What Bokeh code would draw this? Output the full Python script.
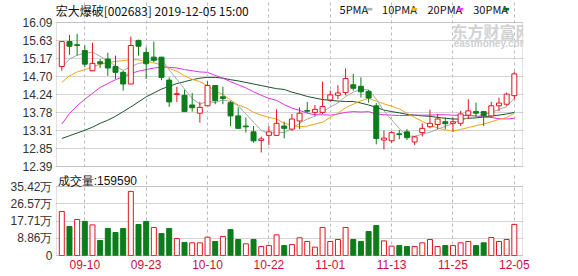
from bokeh.plotting import figure
from bokeh.layouts import column
from bokeh.models import (Range1d, FixedTicker, Label, PrintfTickFormatter,
                          CustomJSTickFormatter, BoxAnnotation)
from bokeh.embed import file_html
from bokeh.resources import INLINE

# ---- daily K-line data (price in CNY, volume in 万手) ----
dates = ["09-05", "09-06", "09-09", "09-10", "09-11", "09-12", "09-16", "09-17", "09-18", "09-19",
         "09-20", "09-23", "09-24", "09-25", "09-26", "09-27", "09-30", "10-08", "10-09", "10-10",
         "10-11", "10-14", "10-15", "10-16", "10-17", "10-18", "10-21", "10-22", "10-23", "10-24",
         "10-25", "10-28", "10-29", "10-30", "10-31", "11-01", "11-04", "11-05", "11-06", "11-07",
         "11-08", "11-11", "11-12", "11-13", "11-14", "11-15", "11-18", "11-19", "11-20", "11-21",
         "11-22", "11-25", "11-26", "11-27", "11-28", "11-29", "12-02", "12-03", "12-04", "12-05"]

opens = [14.96, 15.60, 15.52, 15.37, 14.85, 15.08, 15.15, 14.96, 14.81, 14.51,
         15.63, 15.32, 15.20, 15.20, 14.61, 14.24, 14.22, 13.97, 13.76, 13.95,
         14.47, 14.18, 14.03, 13.69, 13.43, 13.28, 13.06, 13.19, 13.19, 13.43,
         13.35, 13.56, 13.83, 13.78, 13.78, 14.10, 14.22, 14.29, 14.49, 14.45,
         14.32, 13.95, 13.07, 13.05, 13.23, 13.28, 13.02, 13.26, 13.41, 13.47,
         13.54, 13.50, 13.50, 13.71, 13.80, 13.80, 13.69, 13.95, 13.99, 14.21]
highs = [15.60, 15.77, 15.80, 15.50, 15.57, 15.15, 15.31, 15.24, 14.85, 15.73,
         15.65, 15.45, 15.60, 15.20, 14.68, 14.44, 14.36, 14.28, 14.05, 14.58,
         14.48, 14.44, 14.08, 13.91, 13.65, 13.43, 13.16, 13.43, 13.86, 13.54,
         13.74, 13.91, 14.05, 13.97, 14.57, 14.34, 14.48, 14.91, 14.77, 14.68,
         14.36, 14.02, 13.31, 13.30, 13.33, 13.35, 13.17, 13.50, 13.85, 13.74,
         13.65, 13.65, 13.82, 14.12, 14.03, 13.82, 14.05, 14.16, 14.29, 14.83]
lows = [14.85, 15.26, 15.24, 14.94, 14.85, 14.92, 14.72, 14.64, 14.34, 14.50,
        15.24, 14.64, 15.07, 14.61, 13.92, 14.05, 13.80, 13.80, 13.52, 13.95,
        13.99, 13.99, 13.43, 13.36, 13.26, 13.00, 12.75, 12.94, 13.18, 13.11,
        13.30, 13.35, 13.76, 13.69, 13.74, 14.05, 14.12, 14.22, 14.34, 14.16,
        14.03, 12.96, 12.83, 13.00, 13.09, 13.07, 12.94, 13.16, 13.37, 13.35,
        13.35, 13.28, 13.43, 13.61, 13.67, 13.43, 13.65, 13.82, 13.95, 14.12]
closes = [15.60, 15.48, 15.50, 15.02, 15.04, 15.03, 14.92, 14.81, 14.51, 15.50,
          15.48, 15.03, 15.12, 14.68, 14.05, 14.26, 13.80, 13.90, 13.91, 14.47,
          14.08, 14.14, 13.69, 13.37, 13.41, 13.05, 13.10, 13.28, 13.50, 13.37,
          13.61, 13.76, 13.81, 13.86, 13.93, 14.23, 14.28, 14.65, 14.40, 14.31,
          14.15, 13.11, 13.12, 13.26, 13.21, 13.13, 13.15, 13.37, 13.50, 13.61,
          13.49, 13.54, 13.74, 13.82, 13.76, 13.69, 13.95, 14.02, 14.25, 14.77]
volumes = [22.6, 14.9, 18.5, 17.5, 15.7, 7.7, 13.9, 11.8, 13.9, 32.9,
           15.9, 17.5, 14.4, 11.3, 13.9, 8.7, 6.7, 6.5, 6.5, 9.4,
           7.2, 9.8, 13.3, 8.2, 6.0, 8.2, 4.6, 5.1, 10.6, 5.1,
           5.6, 9.1, 7.2, 4.3, 14.4, 7.2, 8.2, 14.4, 8.2, 7.2,
           12.3, 15.4, 7.5, 4.8, 5.1, 4.6, 4.6, 6.5, 8.2, 4.6,
           5.1, 5.1, 6.5, 7.2, 5.1, 6.5, 9.2, 7.2, 8.2, 15.959]

ma5 = [14.94, 15.15, 15.25, 15.30, 15.33, 15.22, 15.11, 14.97, 14.86, 14.95,
       15.04, 15.07, 15.13, 15.16, 14.87, 14.63, 14.38, 14.14, 13.99, 14.07,
       14.03, 14.10, 14.06, 13.95, 13.74, 13.53, 13.32, 13.24, 13.27, 13.26,
       13.37, 13.50, 13.61, 13.68, 13.79, 13.92, 14.02, 14.19, 14.30, 14.37,
       14.36, 14.12, 13.82, 13.59, 13.37, 13.17, 13.17, 13.22, 13.27, 13.35,
       13.42, 13.50, 13.58, 13.64, 13.67, 13.71, 13.79, 13.85, 13.93, 14.14]
ma10 = [14.55, 14.72, 14.82, 14.88, 14.95, 15.02, 15.06, 15.09, 15.11, 15.14,
        15.13, 15.09, 15.05, 15.01, 14.91, 14.84, 14.72, 14.63, 14.57, 14.47,
        14.33, 14.24, 14.10, 13.97, 13.90, 13.78, 13.71, 13.65, 13.61, 13.50,
        13.45, 13.41, 13.43, 13.48, 13.53, 13.65, 13.76, 13.90, 13.99, 14.08,
        14.14, 14.07, 14.00, 13.94, 13.87, 13.76, 13.65, 13.55, 13.45, 13.38,
        13.33, 13.30, 13.34, 13.39, 13.44, 13.48, 13.54, 13.60, 13.65, 13.76]
ma20 = [13.48, 13.75, 13.95, 14.12, 14.27, 14.42, 14.52, 14.62, 14.70, 14.78,
        14.84, 14.88, 14.92, 14.94, 14.94, 14.92, 14.88, 14.85, 14.82, 14.81,
        14.73, 14.66, 14.57, 14.49, 14.41, 14.31, 14.22, 14.14, 14.09, 13.98,
        13.89, 13.83, 13.76, 13.72, 13.72, 13.71, 13.74, 13.78, 13.80, 13.79,
        13.80, 13.74, 13.72, 13.71, 13.70, 13.70, 13.71, 13.71, 13.71, 13.72,
        13.72, 13.71, 13.70, 13.70, 13.69, 13.66, 13.65, 13.62, 13.61, 13.63]
ma30 = [13.11, 13.18, 13.25, 13.32, 13.40, 13.50, 13.58, 13.68, 13.80, 13.92,
        14.05, 14.18, 14.28, 14.38, 14.45, 14.52, 14.57, 14.62, 14.66, 14.68,
        14.68, 14.66, 14.62, 14.59, 14.55, 14.51, 14.47, 14.43, 14.39, 14.37,
        14.30, 14.25, 14.19, 14.15, 14.11, 14.09, 14.07, 14.06, 14.06, 14.02,
        13.97, 13.91, 13.84, 13.80, 13.77, 13.73, 13.71, 13.69, 13.68, 13.65,
        13.63, 13.61, 13.61, 13.63, 13.64, 13.66, 13.69, 13.71, 13.74, 13.78]

price_ticks = [12.39, 12.85, 13.31, 13.78, 14.24, 14.70, 15.17, 15.63, 16.09]
vol_ticks = [0, 8.86, 17.71, 26.57, 35.42]
date_ticks = ["09-10", "09-23", "10-10", "10-22", "11-01", "11-13", "11-25", "12-05"]
ma_names = ["5PMA", "10PMA", "20PMA", "30PMA"]

# ---- styling ----
RED = "#e2141e"
GREEN = "#0b7d1a"
MA_COLORS = ["#a6a6a6", "#eea51c", "#e22fe2", "#17552b"]
KEY_COLORS = ["#b4b4b4", "#f3b41e", "#f040f0", "#0a6b2a"]
FRAME = "#a0a0a0"
HGRID = "#d4d4d4"
VGRID = "#b8b8b8"
AXIS_TXT = "#333333"
DATE_TXT = "#cc1133"
LATIN = "Liberation Sans"
CJK = "Noto Sans CJK SC"
BAR_W = 0.65

# horizontal layout: one candle slot = 7.67 px, first candle 5.3 px right of the plot box
SLOT = 7.67
X0 = -5.3 / SLOT                      # left edge of the plot box
X1 = X0 + 466 / SLOT                  # right edge of the plot box
PAD = 1 / SLOT                        # 1 px margin so the box lines are not clipped
# vertical layout (px per unit) of both panels
PRICE_PX = 144 / (price_ticks[-1] - price_ticks[0])
VOL_PX = 69 / vol_ticks[-1]

n = len(dates)
idx = list(range(n))
tick_idx = [dates.index(d) for d in date_ticks]
candle_up = [c > o for o, c in zip(opens, closes)]
vol_up = [closes[0] > opens[0]] + [closes[i] > closes[i - 1] for i in range(1, n)]
candle_color = [RED if u else GREEN for u in candle_up]
candle_fill = ["white" if u else GREEN for u in candle_up]
vol_color = [RED if u else GREEN for u in vol_up]
vol_fill = ["white" if u else GREEN for u in vol_up]
body_top = [max(o, c) for o, c in zip(opens, closes)]
body_bot = [min(o, c) for o, c in zip(opens, closes)]

x_range = Range1d(X0 - PAD, X1 + PAD)


def style_panel(p, lo, hi):
    p.outline_line_color = None
    p.background_fill_color = "white"
    p.border_fill_color = "white"
    p.xgrid.ticker = FixedTicker(ticks=tick_idx)
    p.xgrid.bounds = (lo, hi)
    p.xgrid.grid_line_color = VGRID
    p.xgrid.grid_line_dash = "3 3"
    p.ygrid.grid_line_color = HGRID
    p.add_layout(BoxAnnotation(left=X0, right=X1, bottom=lo, top=hi,
                               fill_alpha=0, line_color=FRAME, line_width=1))
    for ax in p.yaxis:
        ax.axis_line_color = None
        ax.major_tick_line_color = None
        ax.minor_tick_line_color = None
        ax.major_tick_out = 0
        ax.major_tick_in = 0
        ax.major_label_standoff = 3
        ax.major_label_text_font = LATIN
        ax.major_label_text_font_size = "12px"
        ax.major_label_text_color = AXIS_TXT


# ---- price panel (header row sits inside the top of this panel) ----
p_lo = price_ticks[0] - 1 / PRICE_PX
p_hi = price_ticks[-1] + 22 / PRICE_PX
p1 = figure(width=578, height=173, x_range=x_range, y_range=Range1d(p_lo, p_hi),
            output_backend="svg", toolbar_location=None, x_axis_location=None,
            title_location=None,
            min_border_left=55, min_border_right=55, min_border_top=0, min_border_bottom=6)
style_panel(p1, price_ticks[0], price_ticks[-1])
p1.yaxis.ticker = FixedTicker(ticks=price_ticks)
p1.yaxis.formatter = PrintfTickFormatter(format="%.2f")

for vals, col in zip([ma30, ma20, ma10, ma5], MA_COLORS[::-1]):
    p1.line(idx, vals, line_color=col, line_width=1)

p1.segment(x0=idx, y0=lows, x1=idx, y1=highs, line_color=candle_color, line_width=1)
p1.vbar(x=idx, width=BAR_W, top=body_top, bottom=body_bot,
        fill_color=candle_fill, line_color=candle_color, line_width=1)


def head_y(px_above):
    return price_ticks[-1] + px_above / PRICE_PX


p1.add_layout(Label(x=X0 - 0.1, y=head_y(12.5), text="宏大爆破[002683] 2019-12-05 15:00",
                    text_font=CJK, text_font_size="12px", text_color="#111111",
                    text_align="left", text_baseline="middle"))
key_text_x = [36.21, 41.75, 47.68, 53.64]
key_mark_x = [40.12, 46.0, 51.98, 57.96]
for name, col, tx, mx in zip(ma_names, KEY_COLORS, key_text_x, key_mark_x):
    p1.add_layout(Label(x=tx, y=head_y(13.5), text=name, text_font=CJK, text_font_size="11px",
                        text_color="#111111", text_align="left", text_baseline="middle"))
    p1.add_layout(Label(x=mx, y=head_y(13.5), text="\u25ac", text_font="DejaVu Sans",
                        text_font_size="7px", text_color=col,
                        text_align="center", text_baseline="middle"))

# site watermark
p1.add_layout(Label(x=50.8, y=15.86, text="东方财富网", text_font=CJK,
                    text_font_size="16px", text_font_style="bold", text_color="#d2d2d2",
                    text_align="left", text_baseline="middle"))
p1.add_layout(Label(x=51.1, y=15.56, text="eastmoney.com", text_font=LATIN,
                    text_font_size="10px", text_font_style="bold", text_color="#cfcfcf",
                    text_align="left", text_baseline="middle"))

# ---- volume panel (its caption sits inside the top of this panel) ----
v_lo = vol_ticks[0] - 1 / VOL_PX
v_hi = vol_ticks[-1] + 13 / VOL_PX
p2 = figure(width=578, height=103, x_range=x_range, y_range=Range1d(v_lo, v_hi),
            output_backend="svg", toolbar_location=None, title_location=None,
            min_border_left=55, min_border_right=55, min_border_top=0, min_border_bottom=20)
style_panel(p2, vol_ticks[0], vol_ticks[-1])
p2.yaxis.ticker = FixedTicker(ticks=vol_ticks)
p2.yaxis.formatter = CustomJSTickFormatter(
    code="return tick == 0 ? '0' : tick.toFixed(2) + '万';")
p2.xaxis.ticker = FixedTicker(ticks=tick_idx)
p2.xaxis.formatter = CustomJSTickFormatter(args=dict(labels=dates),
                                           code="return labels[Math.round(tick)] || '';")
ax = p2.xaxis[0]
ax.axis_line_color = None
ax.major_tick_line_color = None
ax.minor_tick_line_color = None
ax.major_tick_out = 0
ax.major_tick_in = 0
ax.major_label_standoff = 3
ax.major_label_text_font = LATIN
ax.major_label_text_font_size = "12px"
ax.major_label_text_color = DATE_TXT

p2.vbar(x=idx, width=BAR_W, top=volumes, bottom=0,
        fill_color=vol_fill, line_color=vol_color, line_width=1)

# caption with the latest volume, hung from the top edge of the panel
p2.add_layout(Label(x=X0 + 0.15, y=vol_ticks[-1] + 12.7 / VOL_PX,
                    text=f"成交量:{round(volumes[-1] * 10000)}",
                    text_font=LATIN, text_font_size="12px", text_color="#111111",
                    text_align="left", text_baseline="top"))

layout = column(p1, p2, spacing=0)
open("out.html", "w").write(file_html(layout, INLINE))
